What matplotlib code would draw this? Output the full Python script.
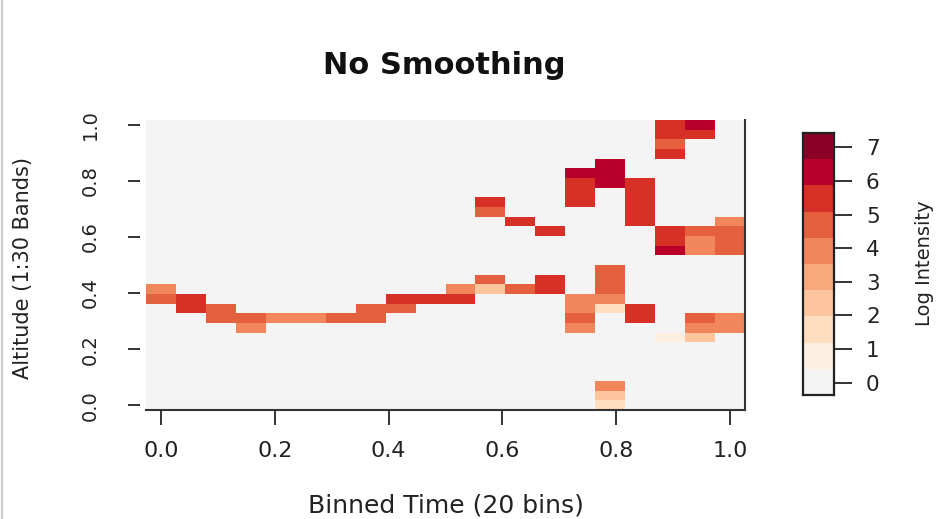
import numpy as np
import matplotlib
matplotlib.use("Agg")
import matplotlib.pyplot as plt
from matplotlib.colors import ListedColormap, BoundaryNorm
from matplotlib.lines import Line2D

plt.rcParams['font.family'] = ['DejaVu Sans']

# ---- data: non-zero cells of the 20 (time) x 30 (altitude) grid ----
n_time = 20
n_alt = 30
time_bin = [0, 0, 1, 1, 2, 2, 3, 3, 4, 5, 6, 7, 7, 8, 8, 9, 10, 10,
            11, 11, 11, 11, 12, 12, 13, 13, 13,
            14, 14, 14, 14, 14, 14, 14, 14,
            15, 15, 15, 15, 15, 15, 15, 15, 15, 15, 15,
            16, 16, 16, 16, 16, 16, 16,
            17, 17, 17, 17, 17, 17, 17, 17,
            18, 18, 18, 18, 18, 18, 18, 18,
            19, 19, 19, 19, 19, 19]
alt_band = [12, 11, 11, 10, 10, 9, 9, 8, 9, 9, 9, 10, 9, 11, 10, 11, 12, 11,
            21, 20, 13, 12, 19, 12, 18, 13, 12,
            24, 23, 22, 21, 11, 10, 9, 8,
            25, 24, 23, 14, 13, 12, 11, 10, 2, 1, 0,
            23, 22, 21, 20, 19, 10, 9,
            29, 28, 27, 26, 18, 17, 16, 7,
            29, 28, 18, 17, 16, 9, 8, 7,
            19, 18, 17, 16, 9, 8]
log_intensity = [3.9, 4.7, 5.5, 5.5, 4.7, 4.7, 4.7, 3.9, 3.9, 3.9, 4.7, 4.7, 4.7, 5.5, 4.7, 5.5, 3.9, 5.5,
                 5.5, 4.7, 4.7, 2.4, 5.5, 4.7, 5.5, 5.5, 5.5,
                 6.3, 5.5, 5.5, 5.5, 3.9, 3.9, 4.7, 3.9,
                 6.3, 6.3, 6.3, 4.7, 4.7, 4.7, 3.9, 1.6, 3.9, 2.4, 1.6,
                 5.5, 5.5, 5.5, 5.5, 5.5, 5.5, 5.5,
                 5.5, 5.5, 4.7, 5.5, 5.5, 5.5, 6.3, 0.8,
                 6.3, 5.5, 4.7, 3.9, 3.9, 4.7, 3.9, 2.4,
                 3.9, 4.7, 4.7, 4.7, 3.9, 3.9]

x_ticks = [0.0, 0.2, 0.4, 0.6, 0.8, 1.0]
y_ticks = [0.0, 0.2, 0.4, 0.6, 0.8, 1.0]
cbar_ticks = [0, 1, 2, 3, 4, 5, 6, 7]
z_min, z_max = -0.37, 7.43

palette = ['#F4F4F4', '#FDEEE2', '#FEDDC1', '#FDC59D', '#F8A87D',
           '#F1865A', '#E5603C', '#D63027', '#B8002B', '#8A0026']

# ---- build grid ----
Z = np.zeros((n_alt, n_time))
for t, a, v in zip(time_bin, alt_band, log_intensity):
    Z[a, t] = v

x_c = np.linspace(0, 1, n_time)
y_c = np.linspace(0, 1, n_alt)
dx = x_c[1] - x_c[0]
dy = y_c[1] - y_c[0]
x_e = np.concatenate([x_c - dx / 2, [x_c[-1] + dx / 2]])
y_e = np.concatenate([y_c - dy / 2, [y_c[-1] + dy / 2]])

breaks = np.linspace(z_min, z_max, len(palette) + 1)
cmap = ListedColormap(palette)
norm = BoundaryNorm(breaks, cmap.N)

W, H = 941, 519
fig = plt.figure(figsize=(W / 100, H / 100), dpi=100)
fig.patch.set_facecolor('white')

def fx(px):
    return px / W

def fy(py):
    return 1 - py / H

ax = fig.add_axes([fx(146), fy(410), fx(745) - fx(146), fy(120) - fy(410)])
ax.pcolormesh(x_e, y_e, Z, cmap=cmap, norm=norm, shading='flat')
ax.set_xlim(x_e[0], x_e[-1])
ax.set_ylim(y_e[0], y_e[-1])

axis_col = '#333333'
for s in ['left', 'top']:
    ax.spines[s].set_visible(False)
for s in ['bottom', 'right']:
    ax.spines[s].set_color(axis_col)
    ax.spines[s].set_linewidth(1.5)
ax.spines['left'].set_position(('outward', 4))

ax.set_xticks(x_ticks)
ax.set_xticklabels([f"{v:.1f}" for v in x_ticks])
ax.set_yticks(y_ticks)
ax.set_yticklabels([f"{v:.1f}" for v in y_ticks], rotation=90, va='center')
ax.tick_params(axis='x', direction='out', length=11, width=1.4, color=axis_col,
               labelsize=16, pad=11, labelcolor='#222222')
ax.tick_params(axis='y', direction='out', length=9, width=1.4, color=axis_col,
               labelsize=14, pad=20, labelcolor='#222222')

fig.text(fx(444), fy(65), 'No Smoothing', ha='center', va='center',
         fontsize=22, fontweight='bold', color='#111111')
fig.text(fx(446), fy(505), 'Binned Time (20 bins)', ha='center', va='center',
         fontsize=18, color='#222222')
fig.text(fx(23), fy(268), 'Altitude (1:30 Bands)', ha='center', va='center',
         rotation=90, fontsize=15, color='#222222')

# ---- colour legend ----
cax = fig.add_axes([fx(803), fy(395), fx(834) - fx(803), fy(133) - fy(395)])
cb_vals = (breaks[:-1] + breaks[1:]) / 2
cax.pcolormesh([0, 1], breaks, cb_vals.reshape(-1, 1), cmap=cmap, norm=norm,
               shading='flat')
cax.set_xlim(0, 1)
cax.set_ylim(z_min, z_max)
cax.set_xticks([])
cax.yaxis.tick_right()
cax.set_yticks(cbar_ticks)
cax.set_yticklabels([str(v) for v in cbar_ticks])
cax.tick_params(axis='y', direction='out', length=13, width=1.4, color=axis_col,
                labelsize=15.5, pad=10, labelcolor='#222222')
for s in cax.spines.values():
    s.set_color('#222222')
    s.set_linewidth(1.6)
fig.text(fx(925), fy(263), 'Log Intensity', ha='center', va='center',
         rotation=90, fontsize=14, color='#222222')

# thin grey border line at the very left of the image
fig.add_artist(Line2D([fx(1.5), fx(1.5)], [0, 1], color='#cccccc', lw=1.5,
                      transform=fig.transFigure))

fig.savefig('out.png', dpi=100)
